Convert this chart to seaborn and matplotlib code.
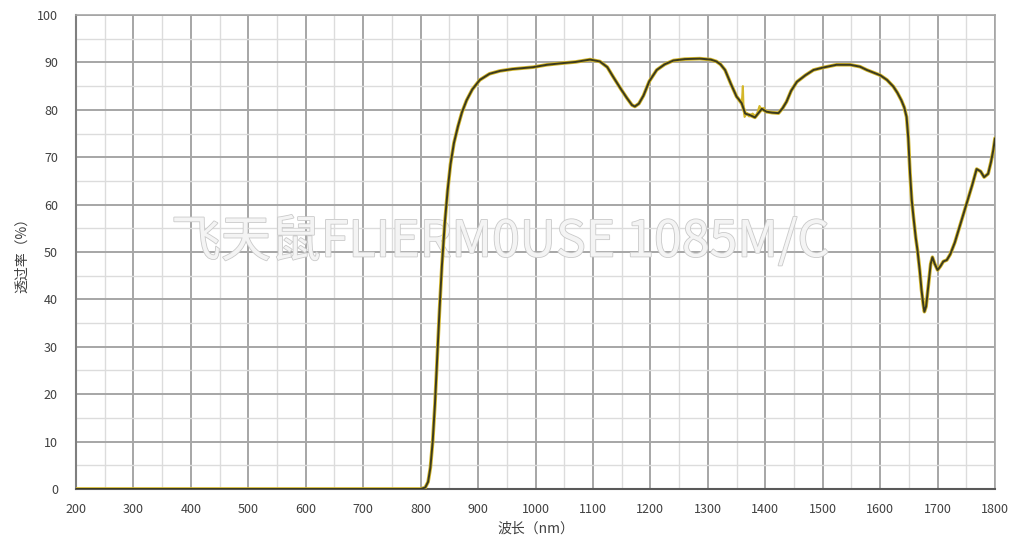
import matplotlib
matplotlib.use('Agg')
import matplotlib.pyplot as plt
import matplotlib.patheffects as pe
from matplotlib.ticker import MultipleLocator
import seaborn as sns
import pandas as pd

# Transmission curve
wavelength = [200, 300, 400, 500, 600, 700, 800, 808, 813, 817, 821, 825, 829, 833, 837,
              842, 847, 852, 858, 865, 872, 880, 890, 903, 920, 938, 960, 996, 1020, 1043,
              1070, 1095, 1112, 1125, 1135, 1148, 1159, 1168, 1173, 1180, 1188, 1198, 1211,
              1225, 1240, 1260, 1286, 1305, 1315, 1322, 1330, 1340, 1350, 1359, 1365, 1373,
              1382, 1394, 1402, 1412, 1423, 1430, 1437, 1445, 1455, 1470, 1484, 1500, 1524,
              1548, 1565, 1577, 1600, 1612, 1623, 1630, 1637, 1642, 1646, 1649, 1652, 1655,
              1658, 1662, 1665, 1669, 1672, 1675, 1677, 1680, 1684, 1688, 1691, 1695, 1700,
              1705, 1710, 1716, 1722, 1730, 1740, 1750, 1760, 1768, 1775, 1781, 1788, 1793,
              1797, 1800]
transmission = [0, 0, 0, 0, 0, 0, 0, 0.3, 1.5, 4.5, 10, 18, 28, 38, 47,
                56, 63, 68.5, 73, 76.5, 79.5, 82, 84.3, 86.3, 87.6, 88.2, 88.6, 89, 89.5, 89.8,
                90.1, 90.6, 90.2, 89, 87, 84.5, 82.5, 81, 80.7, 81.3, 83, 86, 88.4,
                89.6, 90.4, 90.7, 90.8, 90.6, 90.2, 89.6, 88.4, 85.5, 82.8, 81.4, 79.2, 78.9,
                78.4, 80.2, 79.6, 79.4, 79.3, 80.3, 81.7, 84, 85.9, 87.3, 88.4, 88.9, 89.5,
                89.5, 89.1, 88.4, 87.3, 86.3, 84.9, 83.6, 82, 80.5, 78.5, 74, 66.7, 61,
                57.4, 53, 50.4, 46, 42, 39, 37.4, 38.5, 43, 47.5, 48.9, 47.5, 46.2,
                47, 48, 48.3, 49.5, 52, 56, 60, 64, 67.5, 67, 65.8, 66.5, 69,
                71.5, 74]

# raw (yellow) trace in the noisy 1350-1400 nm section
raw_wavelength = [1355, 1359, 1360, 1361, 1362, 1364, 1368, 1372, 1378, 1384, 1390, 1394, 1398]
raw_transmission = [81.8, 81.2, 83, 85, 81, 78.5, 79.3, 78.6, 79.2, 78.5, 80.8, 79.9, 80.4]

y_ticks = list(range(0, 101, 10))
x_ticks = list(range(200, 1801, 100))

df = pd.DataFrame({'wl': wavelength, 't': transmission})
df_raw = pd.DataFrame({'wl': raw_wavelength, 't': raw_transmission})

sns.set_style('white')
plt.rcParams['font.family'] = ['Noto Sans CJK SC', 'DejaVu Sans']

fig = plt.figure(figsize=(10.24, 5.48), dpi=100)
ax = fig.add_axes([0.0742, 0.1077, 0.8975, 0.8649])

sns.lineplot(data=df_raw, x='wl', y='t', ax=ax, color='#d4b72a', linewidth=1.5, zorder=3)
sns.lineplot(data=df, x='wl', y='t', ax=ax, color='#d4b72a', linewidth=2.6, zorder=3)
sns.lineplot(data=df, x='wl', y='t', ax=ax, color='#3b3a1e', linewidth=1.4, zorder=4)

ax.set_xlim(200, 1800)
ax.set_ylim(0, 100)
ax.set_xticks(x_ticks)
ax.set_yticks(y_ticks)
ax.xaxis.set_minor_locator(MultipleLocator(50))
ax.yaxis.set_minor_locator(MultipleLocator(5))
ax.grid(which='major', color='#a6a6a6', linewidth=1.4, zorder=0)
ax.grid(which='minor', color='#dcdcdc', linewidth=1.0, zorder=0)
ax.set_axisbelow(True)
ax.tick_params(which='both', length=0, labelsize=9, colors='#404040')
ax.tick_params(axis='x', pad=10)
ax.tick_params(axis='y', pad=13)

for side in ['top', 'right']:
    ax.spines[side].set_color('#a6a6a6')
    ax.spines[side].set_linewidth(1.2)
ax.spines['left'].set_color('#7f7f7f')
ax.spines['left'].set_linewidth(1.5)
ax.spines['bottom'].set_color('#595959')
ax.spines['bottom'].set_linewidth(1.5)

ax.set_xlabel('波长（nm）', fontsize=10, color='#404040', labelpad=4)
ax.set_ylabel('透过率（%）', fontsize=10, color='#404040', labelpad=6)

ax.text(938, 52, '飞天鼠FLIERM0USE 1085M/C', fontsize=36, fontweight='light',
        color='#f4f4f4', ha='center', va='center', zorder=2,
        path_effects=[pe.withStroke(linewidth=1.2, foreground='#cacaca')])

fig.savefig('out.png', dpi=100)
